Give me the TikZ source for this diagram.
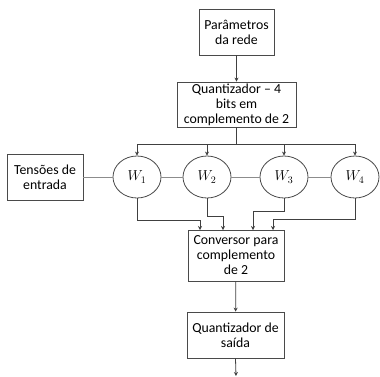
\documentclass[tikz,border=0pt]{standalone}
\usepackage{fontspec}
\setmainfont{Carlito}
\usetikzlibrary{shapes.geometric,arrows.meta}
\definecolor{edgegray}{HTML}{4A4A4A}
\definecolor{linkgray}{HTML}{8C8C8C}
\definecolor{arrgray}{HTML}{404040}
\begin{document}
\begin{tikzpicture}[x=1pt,y=-1pt,
  box/.style={draw=edgegray,line width=0.8pt,inner sep=0pt,align=center,
    font=\fontsize{13.8}{15}\selectfont,text=black},
  wnode/.style={draw=edgegray,line width=0.8pt,ellipse,minimum width=48pt,minimum height=42pt,inner sep=0pt,font=\fontsize{14}{15}\selectfont},
  arr/.style={draw=arrgray,line width=0.8pt,-{Stealth[length=4pt,width=4pt]}},
  conn/.style={draw=arrgray,line width=0.8pt},
  link/.style={draw=linkgray,line width=1pt}]
\useasboundingbox (0,0) rectangle (380,376);
\node[box,minimum width=75pt,minimum height=46pt] (p) at (236.5,32) {Parâmetros\\da rede};
\node[box,minimum width=119pt,minimum height=45pt] (q) at (236.5,104.5) {Quantizador – 4\\bits em\\complemento de 2};
\node[box,minimum width=76pt,minimum height=46pt] (t) at (45,177) {Tensões de\\entrada};
\node[wnode] (w1) at (137,177) {$W_1$};
\node[wnode] (w2) at (207,177) {$W_2$};
\node[wnode] (w3) at (284,177) {$W_3$};
\node[wnode] (w4) at (355,177) {$W_4$};
\node[box,minimum width=96pt,minimum height=51pt] (c) at (236,255.5) {Conversor para\\complemento\\de 2};
\node[box,minimum width=97pt,minimum height=46pt] (s) at (235.5,335) {Quantizador de\\saída};
\coordinate (bus) at (236.5,144);
\coordinate (out) at (236,376);
\coordinate (in1) at (200,230);
\coordinate (in2) at (223,230);
\coordinate (in3) at (253,230);
\coordinate (in4) at (273,230);
\draw[arr] (p) -- (q);
\draw[conn] (q.south) -- (bus);
\draw[arr] (bus) -| (w1.north);
\draw[arr] (bus) -| (w2.north);
\draw[arr] (bus) -| (w3.north);
\draw[arr] (bus) -| (w4.north);
\draw[link] (t) -- (w1);
\draw[link] (w1) -- (w2);
\draw[link] (w2) -- (w3);
\draw[link] (w3) -- (w4);
\draw[arr] (w1.south) -- ++(0,22) -| (in1);
\draw[arr] (w2.south) -- ++(0,18) -| (in2);
\draw[arr] (w3.south) -- ++(0,13) -| (in3);
\draw[arr] (w4.south) -- ++(0,21) -| (in4);
\draw[arr] (c) -- (s);
\draw[arr] (s.south) -- (out);
\end{tikzpicture}
\end{document}
